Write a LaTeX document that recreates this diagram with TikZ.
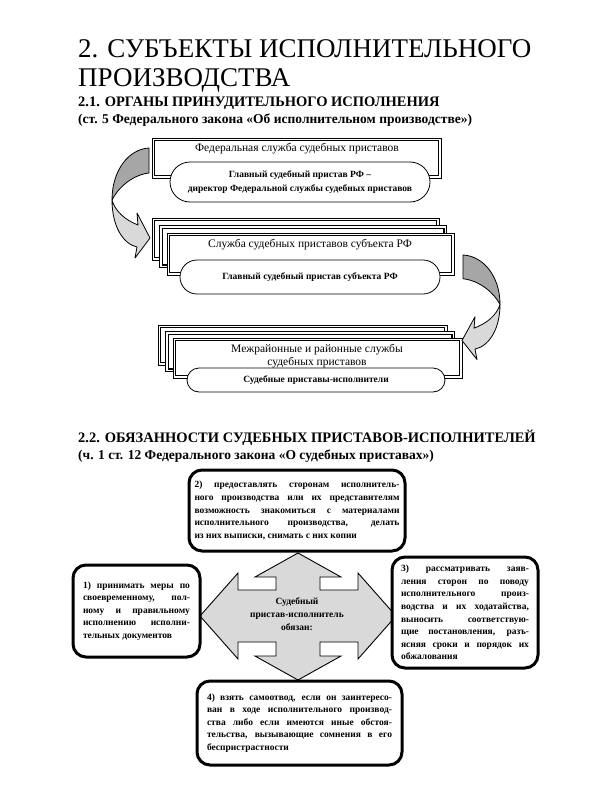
\documentclass[tikz,border=0pt]{standalone}
\usepackage{fontspec}
\setmainfont{Liberation Serif}[Ligatures=TeX]
\usetikzlibrary{shapes.misc,calc}
\definecolor{arrdark}{RGB}{166,166,166}
\definecolor{arrlight}{RGB}{217,217,217}
\newcommand\drawframe[2]{\draw[frameouter] #1 rectangle #2; \draw[frameinner] ($#1+(2.6,2.6)$) rectangle ($#2+(-2.6,-2.6)$);}
\newcommand\dutyset{\spaceskip=0.25em plus 1em minus 0.05em\relax
  \tolerance=10000\relax\hbadness=10000\relax\hyphenpenalty=10000\relax}
\begin{document}
\begin{tikzpicture}[x=1pt,y=-1pt,
  frameouter/.style={draw=black, line width=0.6pt, fill=white},
  frameinner/.style={draw=black, line width=1.2pt},
  pillbox/.style={rounded rectangle, draw=black, line width=0.8pt, fill=white, align=center, inner sep=0pt, font=\bfseries\fontsize{9.5}{14}\selectfont},
  boxtext/.style={align=center, inner sep=0pt, font=\fontsize{11.5}{13}\selectfont},
  curvdark/.style={fill=arrdark, draw=black, line width=0.8pt, line join=round},
  curvlight/.style={fill=arrlight, draw=black, line width=0.8pt, line join=round},
  dutybox/.style={draw=black, line width=3pt, rounded corners=13pt, fill=white, align=justify, inner ysep=3pt,
     font=\bfseries\fontsize{9.5}{12.6}\selectfont, execute at begin node=\dutyset},
  crossarrow/.style={fill=arrlight, draw=black, line width=0.9pt, line join=miter},
  ttl/.style={anchor=base west, inner sep=0pt, font=\fontsize{27}{29}\selectfont},
  hdg/.style={anchor=base west, inner sep=0pt, font=\bfseries\fontsize{13.5}{17}\selectfont},
  hdgcaps/.style={hdg, font=\bfseries\fontsize{14.5}{17}\selectfont},
]
\useasboundingbox[fill=white] (0,0) rectangle (600,800);

% ---- titles
\node[ttl] (t1) at (78,57) {2. СУБЪЕКТЫ ИСПОЛНИТЕЛЬНОГО};
\node[ttl] (t2) at (78,86) {ПРОИЗВОДСТВА};
\node[hdgcaps] (h1a) at (78,106) {2.1. ОРГАНЫ ПРИНУДИТЕЛЬНОГО ИСПОЛНЕНИЯ};
\node[hdg] (h1b) at (78,123) {(ст. 5 Федерального закона «Об исполнительном производстве»)};
\node[hdgcaps] (h2a) at (78,442) {2.2. ОБЯЗАННОСТИ СУДЕБНЫХ ПРИСТАВОВ-ИСПОЛНИТЕЛЕЙ};
\node[hdg] (h2b) at (78,459) {(ч. 1 ст. 12 Федерального закона «О судебных приставах»)};

% ---- level 1
\drawframe{(152,138)}{(441,178)}
\node[boxtext] (fssp) at (297,149) {Федеральная служба судебных приставов};
\node[pillbox, minimum width=260pt, minimum height=40pt] (p1) at (300,182)
  {Главный судебный пристав РФ –\\директор Федеральной службы судебных приставов};

% ---- level 2
\drawframe{(152,218)}{(439,260)}
\drawframe{(159.5,225.5)}{(446.5,267.5)}
\drawframe{(167,233)}{(454,275)}
\node[boxtext] (subj) at (310,245) {Служба судебных приставов субъекта РФ};
\node[pillbox, minimum width=260pt, minimum height=34pt] (p2) at (310,277)
  {Главный судебный пристав субъекта РФ};

% ---- level 3
\drawframe{(158,325)}{(447,365)}
\drawframe{(165.5,331.5)}{(454.5,371.5)}
\drawframe{(173,338)}{(462,378)}
\node[boxtext] (rayon) at (317,356) {Межрайонные и районные службы\\судебных приставов};
\node[pillbox, minimum width=258pt, minimum height=24pt] (p3) at (316,380)
  {Судебные приставы-исполнители};

% ---- curved arrows
\begin{scope}[shift={(149,148)}, xscale=-1]
  \path[curvdark] (0,0) .. controls (20,1) and (37,22) .. (37,52)
     .. controls (31,40) and (17,27) .. (0,25) -- cycle;
  \path[curvlight] (37,52) .. controls (37,78) and (26,96) .. (12,99)
     -- (14,110) -- (-1,90) -- (12,65) -- (11,77)
     .. controls (24,72) and (34,63) .. (37,52) -- cycle;
\end{scope}
\begin{scope}[shift={(463,255)}, yscale=0.95]
  \path[curvdark] (0,0) .. controls (20,1) and (37,22) .. (37,52)
     .. controls (31,40) and (17,27) .. (0,25) -- cycle;
  \path[curvlight] (37,52) .. controls (37,78) and (26,96) .. (12,99)
     -- (14,110) -- (-1,90) -- (12,65) -- (11,77)
     .. controls (24,72) and (34,63) .. (37,52) -- cycle;
\end{scope}

% ---- quad arrow
\path[crossarrow] (298,553) -- (255,577) -- (276,577) -- (276,590) -- (238,590) -- (238,573)
  -- (200,616) -- (238,659) -- (238,642) -- (276,642) -- (276,656) -- (255,656)
  -- (298,680) -- (341,656) -- (320,656) -- (320,642) -- (358,642) -- (358,659)
  -- (396,616) -- (358,573) -- (358,590) -- (320,590) -- (320,577) -- (341,577) -- cycle;
\node[align=center, inner sep=0pt, font=\bfseries\fontsize{9.5}{13}\selectfont] (crosstxt) at (297,614)
  {Судебный\\пристав-исполнитель\\обязан:};

% ---- duty boxes
\node[dutybox, text width=205pt, inner xsep=5.5pt, minimum height=81pt] (d2) at (297,510.5)
  {2) предоставлять сторонам исполнитель-\linebreak ного производства или их представителям\linebreak возможность знакомиться с материалами\linebreak исполнительного производства, делать\linebreak из них выписки, снимать с них копии};
\node[dutybox, text width=107pt, inner xsep=10pt, minimum height=92pt] (d1) at (136.5,611)
  {1) принимать меры по\linebreak своевременному, пол-\linebreak ному и правильному\linebreak исполнению исполни-\linebreak тельных документов};
\node[dutybox, text width=128pt, inner xsep=9pt, minimum height=111pt] (d3) at (465,612.5)
  {3) рассматривать заяв-\linebreak ления сторон по поводу\linebreak исполнительного произ-\linebreak водства и их ходатайства,\linebreak выносить соответствую-\linebreak щие постановления, разъ-\linebreak ясняя сроки и порядок их\linebreak обжалования};
\node[dutybox, text width=185pt, inner xsep=10pt, minimum height=84pt] (d4) at (299.5,723)
  {4) взять самоотвод, если он заинтересо-\linebreak ван в ходе исполнительного производ-\linebreak ства либо если имеются иные обстоя-\linebreak тельства, вызывающие сомнения в его\linebreak беспристрастности};
\end{tikzpicture}
\end{document}
